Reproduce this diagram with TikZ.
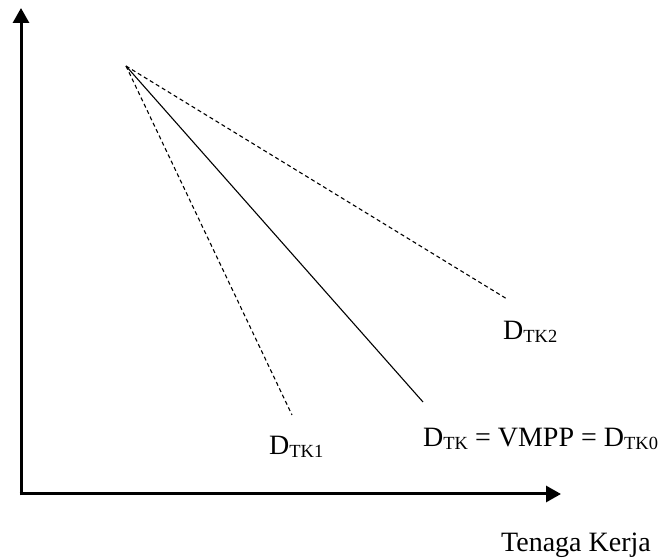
\documentclass[tikz,border=0pt]{standalone}
\usepackage{fontspec}
\setmainfont{Liberation Serif}
\usetikzlibrary{arrows.meta}
\newcommand{\lsub}[1]{\raisebox{-2.5pt}{\fontsize{18.5}{18.5}\selectfont #1}}
\begin{document}
\begin{tikzpicture}[x=1pt,y=1pt,
  axisline/.style={line width=3pt,-{Triangle[length=15pt,width=16pt]}},
  curve/.style={line width=1.1pt},
  dcurve/.style={line width=1.1pt,dash pattern=on 4pt off 3pt},
  lbl/.style={anchor=base west,inner sep=0pt,font=\fontsize{28}{30}\selectfont}]
\useasboundingbox (0,0) rectangle (667,559);
\coordinate (O) at (21,65);
\coordinate (ytop) at (21,551);
\coordinate (xend) at (561,65);
\coordinate (P) at (126,493);
\coordinate (E1) at (292,144);
\coordinate (E0) at (423,157);
\coordinate (E2) at (507,260);
\draw[axisline] ([yshift=-1.5pt]O) -- (ytop);
\draw[axisline] ([xshift=-1.5pt]O) -- (xend);
\draw[dcurve] (P) -- (E1);
\draw[curve] (P) -- (E0);
\draw[dcurve] (P) -- (E2);
\node[lbl] (l2) at (503,219) {D\lsub{TK2}};
\node[lbl] (l1) at (269,104) {D\lsub{TK1}};
\node[lbl] (l0) at (423,112) {D\lsub{TK} = VMPP = D\lsub{TK0}};
\node[lbl] (lx) at (501,7) {Tenaga Kerja};
\end{tikzpicture}
\end{document}
